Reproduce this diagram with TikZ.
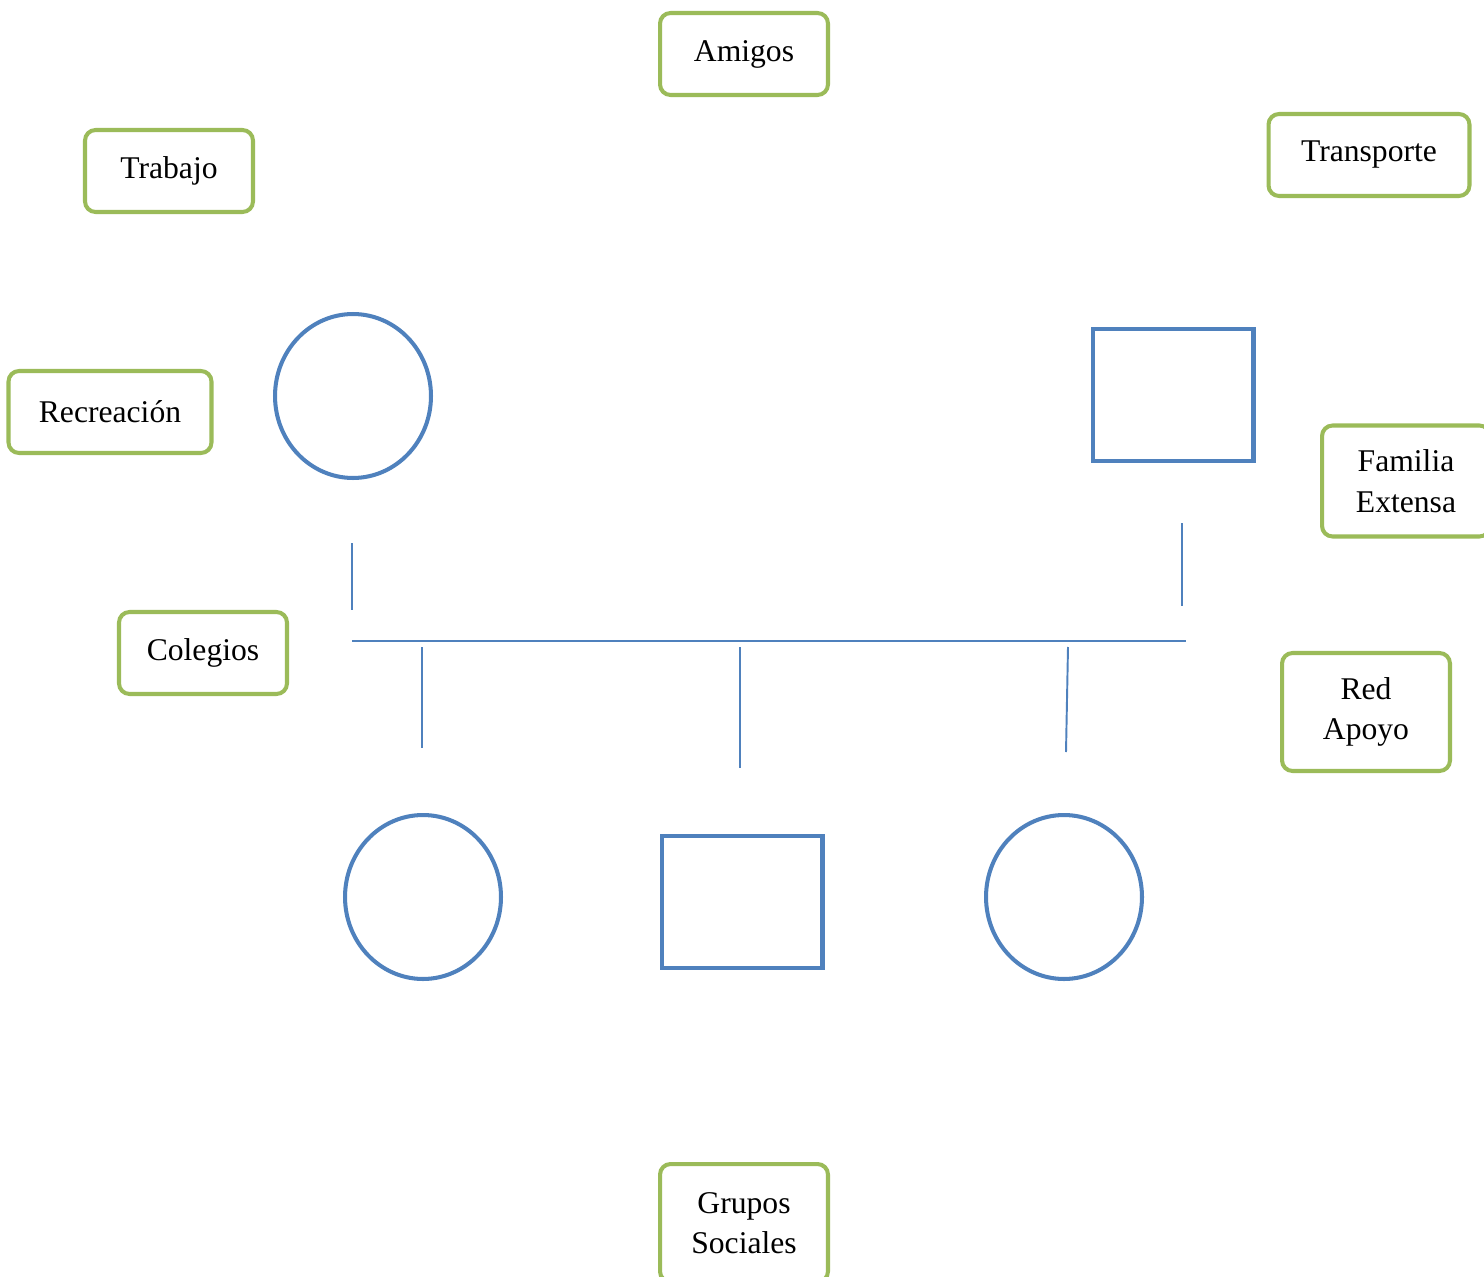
\documentclass[tikz,border=0pt]{standalone}
\usepackage{fontspec}
\setmainfont{Liberation Serif}
\definecolor{boxgreen}{HTML}{9BBB59}
\definecolor{famblue}{HTML}{4F81BD}
\usetikzlibrary{shapes.geometric, positioning}

\begin{document}
\begin{tikzpicture}[
  x=0.02cm, y=-0.02cm,
  every node/.style={font=\fontsize{18}{23}\selectfont},
  redbox/.style={draw=boxgreen, line width=2.3pt, rounded corners=6pt,
                 fill=white, align=center, minimum width=3.36cm, minimum height=1.64cm},
  mujer/.style={draw=famblue, line width=2.3pt, ellipse,
                minimum width=3.12cm, minimum height=3.28cm},
  hombre/.style={draw=famblue, line width=2.3pt, rectangle,
                 minimum width=3.22cm, minimum height=2.64cm},
  rama/.style={draw=famblue, line width=1.1pt}
]
  \useasboundingbox (0,0) rectangle (1484,1277);

  % red de apoyo
  \node[redbox] (amigos) at (744,54) {Amigos};
  \node[redbox] (trabajo) at (169,171) {Trabajo};
  \node[redbox, minimum width=4.02cm] (transporte) at (1369,155) {Transporte};
  \node[redbox, minimum width=4.06cm] (recreacion) at (110,412) {Recreación};
  \node[redbox, minimum height=2.22cm] (familia) at (1406,481) {Familia\\Extensa};
  \node[redbox] (colegios) at (203,653) {Colegios};
  \node[redbox, minimum height=2.36cm] (redapoyo) at (1366,712) {Red\\Apoyo};
  \node[redbox, minimum height=2.36cm] (grupos) at (744,1223) {Grupos\\Sociales};

  % familia nuclear
  \node[mujer] (madre) at (353,396) {};
  \node[hombre] (padre) at (1173,395) {};
  \node[mujer] (hija1) at (423,897) {};
  \node[hombre] (hijo) at (742,902) {};
  \node[mujer] (hija2) at (1064,897) {};

  \coordinate (m1) at (352,543);  \coordinate (m2) at (352,610);
  \coordinate (p1) at (1182,523); \coordinate (p2) at (1182,606);
  \coordinate (u1) at (352,641);  \coordinate (u2) at (1186,641);
  \coordinate (a1) at (422,647);  \coordinate (a2) at (422,748);
  \coordinate (b1) at (740,647);  \coordinate (b2) at (740,768);
  \coordinate (c1) at (1068,647); \coordinate (c2) at (1066,752);

  \draw[rama] (m1) -- (m2);
  \draw[rama] (p1) -- (p2);
  \draw[rama] (u1) -- (u2);
  \draw[rama] (a1) -- (a2);
  \draw[rama] (b1) -- (b2);
  \draw[rama] (c1) -- (c2);
\end{tikzpicture}
\end{document}
